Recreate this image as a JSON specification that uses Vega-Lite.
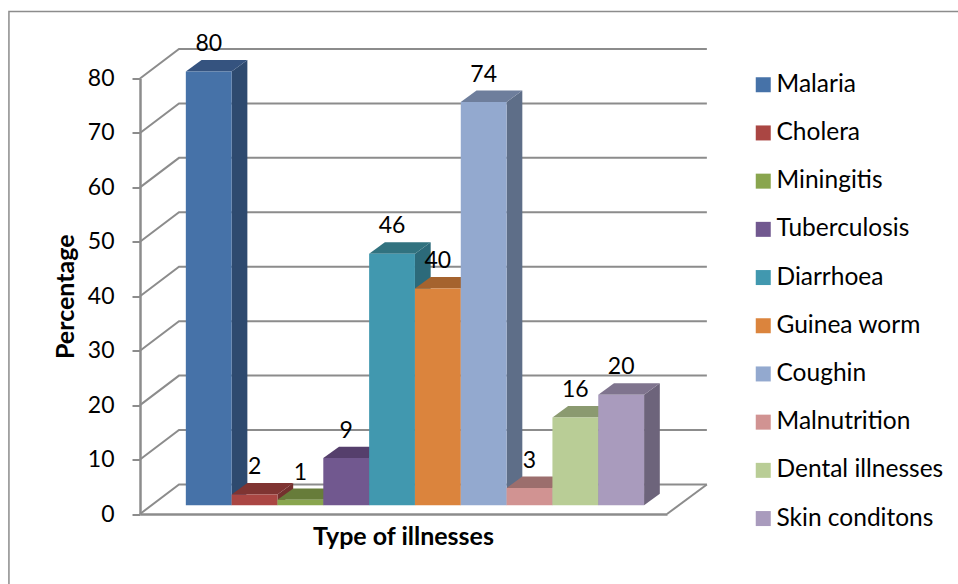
{
"$schema":"https://vega.github.io/schema/vega-lite/v6.json",
"width":527,"height":435.5,
"autosize":{"type":"none"},
"padding":{"left":140,"top":78.5,"right":291,"bottom":70},
"background":"white",
"datasets":{
"bars":[
{"illness":"Malaria","percentage":80,"order":1},
{"illness":"Cholera","percentage":2,"order":2},
{"illness":"Miningitis","percentage":1,"order":3},
{"illness":"Tuberculosis","percentage":8.7,"order":4},
{"illness":"Diarrhoea","percentage":46.4,"order":5},
{"illness":"Guinea worm","percentage":40,"order":6},
{"illness":"Coughin","percentage":74.4,"order":7},
{"illness":"Malnutrition","percentage":3.2,"order":8},
{"illness":"Dental illnesses","percentage":16.2,"order":9},
{"illness":"Skin conditons","percentage":20.4,"order":10}
],
"ticks":[{"tick":0},{"tick":10},{"tick":20},{"tick":30},{"tick":40},{"tick":50},{"tick":60},{"tick":70},{"tick":80}]
},
"layer":[
{"data":{"values":[{"name":"frame"}]},
 "mark":{"type":"rect","fill":null,"stroke":"#8c8c8c","strokeWidth":1.5},
 "encoding":{
  "x":{"datum":-2.86,"type":"quantitative","scale":{"domain":[0,11.5],"nice":false,"zero":false},"axis":{"ticks":false,"labels":false,"grid":false,"domainColor":"#8c8c8c","domainWidth":2.5,"title":"Type of illnesses","titleFont":"Lato","titleFontWeight":"bold","titleFontSize":25,"titleColor":"#000000","titleY":22,"titleBaseline":"middle","titleX":263}},
  "x2":{"datum":18},
  "y":{"datum":92.3,"type":"quantitative","scale":{"domain":[0,80],"nice":false,"zero":false},"axis":{"values":[0,10,20,30,40,50,60,70,80],"grid":false,"tickSize":8,"tickColor":"#8c8c8c","tickWidth":2,"domainColor":"#8c8c8c","domainWidth":2.5,"labelFont":"Lato","labelFontSize":23,"labelColor":"#000000","labelPadding":18,"title":"Percentage","titleFont":"Lato","titleFontWeight":"bold","titleFontSize":25,"titleColor":"#000000","titleX":-75,"titleBaseline":"middle"}},
  "y2":{"datum":-14}
 }},
{"data":{"name":"ticks"},
 "transform":[
  {"calculate":"[0,0.851,12.37]","as":"gx"},
  {"calculate":"[datum.tick,datum.tick+5.42,datum.tick+5.42]","as":"gy"},
  {"flatten":["gx","gy"]}
 ],
 "mark":{"type":"line","color":"#8c8c8c","strokeWidth":2,"interpolate":"linear"},
 "encoding":{
  "x":{"field":"gx","type":"quantitative","axis":null},
  "y":{"field":"gy","type":"quantitative","axis":null},
  "detail":{"field":"tick"},
  "order":{"field":"gx"}
 }},
{"data":{"values":[{"name":"floor edge"}]},
 "mark":{"type":"rule","color":"#8c8c8c","strokeWidth":2},
 "encoding":{
  "x":{"datum":11.5,"type":"quantitative","axis":null},
  "x2":{"datum":12.37},
  "y":{"datum":0,"type":"quantitative","axis":null},
  "y2":{"datum":5.42}
 }},
{"data":{"name":"bars"},
 "transform":[
  {"calculate":"1.6+0.996*datum.percentage","as":"top"},
  {"calculate":"[datum.order+1,datum.order+1.343]","as":"sx"},
  {"calculate":"[datum.top,datum.top+2.11]","as":"st"},
  {"calculate":"[1.6,3.71]","as":"sb"},
  {"flatten":["sx","st","sb"]}
 ],
 "mark":{"type":"area","orient":"vertical","interpolate":"linear"},
 "encoding":{
  "x":{"field":"sx","type":"quantitative","axis":null},
  "y":{"field":"st","type":"quantitative","axis":null,"stack":null},
  "y2":{"field":"sb"},
  "color":{"field":"illness","type":"nominal","legend":null,
   "scale":{"domain":["Malaria","Cholera","Miningitis","Tuberculosis","Diarrhoea","Guinea worm","Coughin","Malnutrition","Dental illnesses","Skin conditons"],
   "range":["#2E4A6F","#74302E","#5A6E33","#4A3A5F","#2C6A7A","#91572A","#5E6E88","#8A6160","#7A8763","#6D647B"]}}
 }},
{"data":{"name":"bars"},
 "transform":[
  {"calculate":"1.6+0.996*datum.percentage","as":"top"},
  {"calculate":"[datum.order,datum.order+0.343]","as":"tx"},
  {"calculate":"[datum.order+1,datum.order+1.343]","as":"tx2"},
  {"calculate":"[datum.top,datum.top+2.11]","as":"ty"},
  {"flatten":["tx","tx2","ty"]}
 ],
 "mark":{"type":"area","orient":"horizontal","interpolate":"linear"},
 "encoding":{
  "y":{"field":"ty","type":"quantitative","axis":null},
  "x":{"field":"tx","type":"quantitative","axis":null,"stack":null},
  "x2":{"field":"tx2"},
  "color":{"field":"illness","type":"nominal","legend":null,
   "scale":{"domain":["Malaria","Cholera","Miningitis","Tuberculosis","Diarrhoea","Guinea worm","Coughin","Malnutrition","Dental illnesses","Skin conditons"],
   "range":["#35537F","#7F3432","#677C3A","#553F6C","#31727F","#A5632E","#6E7E9C","#9C6E6D","#8B9A70","#7F748E"]}}
 }},
{"data":{"name":"bars"},
 "transform":[
  {"calculate":"1.6+0.996*datum.percentage","as":"top"},
  {"calculate":"datum.order+1","as":"right"},
  {"calculate":"1.6","as":"base"}
 ],
 "mark":{"type":"rect"},
 "encoding":{
  "x":{"field":"order","type":"quantitative","axis":null},
  "x2":{"field":"right"},
  "y":{"field":"top","type":"quantitative","axis":null},
  "y2":{"field":"base"},
  "color":{"field":"illness","type":"nominal",
   "scale":{"domain":["Malaria","Cholera","Miningitis","Tuberculosis","Diarrhoea","Guinea worm","Coughin","Malnutrition","Dental illnesses","Skin conditons"],
   "range":["#4672A8","#AA4643","#89A54E","#71588F","#4198AF","#DB843D","#93A9CF","#D19392","#B9CD96","#A99BBD"]},
   "legend":{"orient":"none","legendX":611,"legendY":-6,"title":null,"symbolType":"square","symbolSize":225,"symbolStrokeWidth":0,"labelFont":"Lato","labelFontSize":24.5,"labelColor":"#000000","labelOffset":1,"rowPadding":23.2,"labelLimit":300}}
 }},
{"data":{"name":"bars"},
 "transform":[
  {"calculate":"datum.order+0.5","as":"mid"},
  {"calculate":"1.6+0.996*datum.percentage+5.0","as":"labelY"}
 ],
 "mark":{"type":"text","font":"Lato","fontSize":23,"color":"#000000","baseline":"middle","align":"center"},
 "encoding":{
  "x":{"field":"mid","type":"quantitative","axis":null},
  "y":{"field":"labelY","type":"quantitative","axis":null},
  "text":{"field":"percentage","type":"quantitative","format":".0f"}
 }}
],
"resolve":{"scale":{"color":"independent"},"axis":{"x":"independent","y":"independent"}},
"config":{"view":{"stroke":null}}
}
